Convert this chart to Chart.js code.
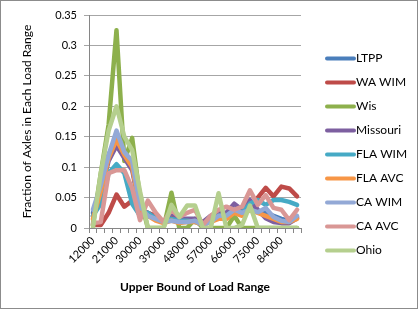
<!DOCTYPE html>
<html>
<head>
<meta charset="utf-8">
<script src="https://cdn.jsdelivr.net/npm/chart.js@4"></script>
<style>
  html, body { margin: 0; padding: 0; background: #fff; }
</style>
</head>
<body>
<canvas id="axle-chart" width="420" height="310"></canvas>
<script>
// upper bound of each load range (lbs)
var loadBounds = ['12000', '15000', '18000', '21000', '24000', '27000', '30000', '33000', '36000',
  '39000', '42000', '45000', '48000', '51000', '54000', '57000', '60000', '63000',
  '66000', '69000', '72000', '75000', '78000', '81000', '84000', '87000', '90000'];

var seriesNames = ['LTPP', 'WA WIM', 'Wis', 'Missouri', 'FLA WIM', 'FLA AVC', 'CA WIM', 'CA AVC', 'Ohio'];
var seriesColors = ['#4A7EBB', '#BE4B48', '#8DB04C', '#7D5FA0', '#46AAC5', '#F79646', '#93A9D6', '#D99795', '#B5CF8E'];

var ltpp     = [0.025, 0.065, 0.12, 0.15, 0.12, 0.10, 0.03, 0.02, 0.015, 0.01, 0.015, 0.012, 0.012, 0.012, 0.008, 0.012, 0.02, 0.02, 0.03, 0.025, 0.035, 0.028, 0.025, 0.02, 0.015, 0.012, 0.018];
var waWim    = [0.005, 0.005, 0.025, 0.055, 0.035, 0.045, 0.03, 0.025, 0.02, 0.01, 0.02, 0.01, 0.012, 0.012, 0.01, 0.015, 0.015, 0.02, 0.025, 0.025, 0.035, 0.05, 0.066, 0.052, 0.068, 0.065, 0.052];
var wis      = [0.005, 0.09, 0.17, 0.325, 0.11, 0.148, 0.05, 0, 0, 0, 0.058, 0, 0, 0.015, 0, 0, 0, 0, 0.02, 0, 0, 0, 0, 0, 0, 0, 0];
var missouri = [0.02, 0.06, 0.11, 0.135, 0.115, 0.095, 0.03, 0.025, 0.015, 0.01, 0.025, 0.015, 0.015, 0.015, 0.01, 0.02, 0.025, 0.025, 0.04, 0.03, 0.046, 0.03, 0.016, 0.01, 0.008, 0.008, 0.016];
var flaWim   = [0.02, 0.04, 0.09, 0.105, 0.09, 0.04, 0.02, 0.025, 0.015, 0.01, 0.015, 0.012, 0.012, 0.01, 0.005, 0.015, 0.02, 0.02, 0.03, 0.025, 0.04, 0.046, 0.038, 0.046, 0.046, 0.043, 0.038];
var flaAvc   = [0.015, 0.06, 0.115, 0.145, 0.12, 0.10, 0.03, 0.02, 0.012, 0.008, 0.012, 0.008, 0.01, 0.01, 0.005, 0.01, 0.015, 0.015, 0.025, 0.02, 0.03, 0.025, 0.02, 0.015, 0.01, 0.01, 0.015];
var caWim    = [0.03, 0.07, 0.12, 0.16, 0.125, 0.11, 0.035, 0.02, 0.015, 0.01, 0.012, 0.01, 0.01, 0.012, 0.005, 0.01, 0.02, 0.02, 0.03, 0.025, 0.03, 0.026, 0.033, 0.018, 0.012, 0.01, 0.02];
var caAvc    = [0.008, 0.01, 0.09, 0.095, 0.095, 0.065, 0.013, 0.045, 0.025, 0.01, 0.03, 0.018, 0.025, 0.03, 0.005, 0.02, 0.03, 0.035, 0.03, 0.035, 0.062, 0.038, 0.054, 0.033, 0.03, 0.013, 0.03];
var ohio     = [0, 0.09, 0.16, 0.2, 0.15, 0.128, 0.06, 0, 0, 0, 0.038, 0.018, 0.037, 0.037, 0, 0, 0.057, 0, 0, 0.005, 0.037, 0, 0, 0, 0, 0, 0];

var seriesValues = [ltpp, waWim, wis, missouri, flaWim, flaAvc, caWim, caAvc, ohio];

var yTicks = [0, 0.05, 0.1, 0.15, 0.2, 0.25, 0.3, 0.35];

// legend on the right, excel style (line sample + name)
var sideLegend = {
  id: 'sideLegend',
  afterDraw: function(chart) {
    var ctx = chart.ctx;
    ctx.save();
    ctx.font = '12px Lato';
    ctx.textBaseline = 'middle';
    chart.data.datasets.forEach(function(ds, i) {
      var y = 58.5 + i * 24;
      ctx.strokeStyle = ds.borderColor;
      ctx.lineWidth = 4;
      ctx.lineCap = 'round';
      ctx.beginPath();
      ctx.moveTo(327, y);
      ctx.lineTo(354, y);
      ctx.stroke();
      ctx.fillStyle = '#000';
      ctx.fillText(ds.label, 356, y);
    });
    ctx.restore();
  }
};

var frame = {
  id: 'frame',
  beforeDraw: function(chart) {
    var ctx = chart.ctx;
    ctx.save();
    ctx.fillStyle = '#fff';
    ctx.fillRect(0, 0, chart.width, chart.height);
    ctx.restore();
  },
  afterDraw: function(chart) {
    var ctx = chart.ctx;
    ctx.save();
    ctx.strokeStyle = '#8c8c8c';
    ctx.lineWidth = 1;
    ctx.strokeRect(0.5, 0.5, 417, 308);
    ctx.restore();
  }
};

new Chart('axle-chart', {
  type: 'line',
  data: {
    labels: loadBounds,
    datasets: seriesNames.map(function(name, i) {
      return {
        label: name,
        data: seriesValues[i],
        borderColor: seriesColors[i],
        backgroundColor: seriesColors[i],
        order: seriesNames.length - i,
      };
    }),
  },
  options: {
    responsive: false,
    animation: false,
    devicePixelRatio: 1,
    layout: { padding: { top: 15, right: 119, bottom: 0, left: 0 } },
    elements: {
      point: { radius: 0 },
      line: { tension: 0, borderWidth: 4.5, borderJoinStyle: 'round', borderCapStyle: 'round' },
    },
    plugins: {
      legend: { display: false },
      tooltip: { enabled: false },
    },
    scales: {
      x: {
        offset: true,
        grid: { offset: true, drawOnChartArea: false, drawTicks: true, tickLength: 5, color: '#868686' },
        border: { color: '#868686' },
        ticks: {
          autoSkip: false,
          minRotation: 45,
          maxRotation: 45,
          padding: 1,
          color: '#000',
          font: { family: 'Lato', size: 11 },
          callback: function(v, i) { return i % 3 === 0 ? this.getLabelForValue(v) : ''; },
        },
        title: {
          display: true,
          text: 'Upper Bound of Load Range',
          color: '#000',
          font: { family: 'Lato', size: 12, weight: 'bold' },
          padding: { top: 0, bottom: 16 },
        },
        afterFit: function(s) { s.height = 82; },
      },
      y: {
        min: 0,
        max: 0.35,
        afterBuildTicks: function(s) { s.ticks = yTicks.map(function(v) { return { value: v }; }); },
        grid: { color: '#a6a6a6', tickLength: 5 },
        border: { color: '#868686' },
        ticks: {
          padding: 7,
          color: '#000',
          font: { family: 'Lato', size: 11 },
          callback: function(v) { return String(+v.toFixed(2)); },
        },
        title: {
          display: true,
          text: 'Fraction of Axles in Each Load Range',
          color: '#000',
          font: { family: 'Lato', size: 12 },
          padding: { top: 20, bottom: 0 },
        },
        afterFit: function(s) { s.width = 89; },
      },
    },
  },
  plugins: [frame, sideLegend],
});
</script>
</body>
</html>
